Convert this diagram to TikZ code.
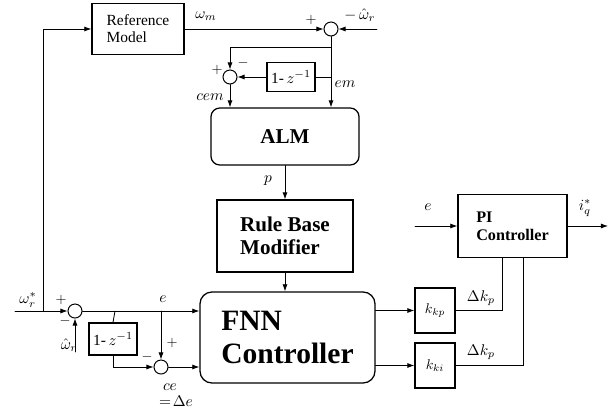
\documentclass[tikz,border=0pt]{standalone}
\usepackage{fix-cm}
\usepackage{amsmath}
\usepackage{fontspec}
\setmainfont{Liberation Serif}[Ligatures=TeX]
\newfontfamily\tms{Liberation Serif}
\usetikzlibrary{arrows.meta,calc}

\begin{document}
\begin{tikzpicture}[x=0.025cm,y=-0.025cm,>={Latex[length=5pt,width=3.6pt]},line cap=round,line width=0.6pt,
  box/.style={draw,line width=0.9pt,inner sep=0pt,align=left},
  rbox/.style={box,rounded corners=0.22cm},
  sumnode/.style={draw,circle,line width=0.7pt,minimum size=0.35cm,inner sep=0pt},
  lab/.style={inner sep=1pt,font=\fontsize{11}{12}\selectfont},
  sgn/.style={inner sep=0pt,font=\fontsize{10}{11}\selectfont}]
\useasboundingbox (0,0) rectangle (614,408);
% blocks
\node[box,minimum width=2.3cm,minimum height=1.275cm,font=\tms\fontsize{11}{12}\selectfont] (refm) at (138,29) {Reference\\Model};
\node[sumnode] (summ) at (331,29) {};
\node[sumnode] (sumc) at (230,77) {};
\node[box,minimum width=1.2cm,minimum height=0.725cm,font=\tms\fontsize{11}{12}\selectfont] (dlym) at (291,77) {1-\,$z^{-1}$};
\node[rbox,minimum width=3.7cm,minimum height=1.425cm,font=\tms\fontsize{15}{17}\selectfont\bfseries] (alm) at (285,136.5) {ALM};
\node[box,minimum width=3.4cm,minimum height=1.8cm,font=\tms\fontsize{15}{16}\selectfont\bfseries] (rbm) at (285,236) {Rule Base\\Modifier};
\node[rbox,rounded corners=0.3cm,minimum width=4.375cm,minimum height=2.275cm,font=\tms\fontsize{21}{23}\selectfont\bfseries] (fnn) at (287.5,337.5) {FNN\\Controller};
\node[sumnode] (sume) at (75,311) {};
\node[box,minimum width=1.2cm,minimum height=0.8cm,font=\tms\fontsize{11}{12}\selectfont] (dlye) at (113,339) {1-\,$z^{-1}$};
\node[sumnode] (sumce) at (161,367) {};
\node[box,minimum width=1.0cm,minimum height=1.125cm] (kkp) at (435,310.5) {$k_{kp}$};
\node[box,minimum width=1.0cm,minimum height=1.125cm] (kki) at (435,365.5) {$k_{ki}$};
\node[box,minimum width=2.725cm,minimum height=1.575cm,font=\tms\fontsize{11.5}{13}\selectfont\bfseries] (pi) at (512.5,226) {PI\\Controller};
% free ends
\coordinate (win) at (15,311);
\coordinate (br1) at (43,311);
\coordinate (whr) at (75,352);
\coordinate (br2) at (115,311);
\coordinate (br3) at (161,311);
\coordinate (whm) at (377,29);
\coordinate (br4) at (331,47);
\coordinate (br5) at (331,77);
\coordinate (ein) at (415,226);
\coordinate (iout) at (608,226);
% reference loop
\draw[->] (win) -- (sume.west);
\draw[->] (br1) -- (43,29) -- (refm.west);
\draw[->] (whr) -- (sume.south);
\draw[->] (sume.east) -- (sume -| fnn.west);
\draw (br2) -- (dlye.north);
\draw[->] (dlye.south) |- (sumce.west);
\draw[->] (br3) -- (sumce.north);
\draw[->] (sumce.east) -- (sumce -| fnn.west);
% adaptation loop
\draw[->] (refm.east) -- (summ.west);
\draw[->] (whm) -- (summ.east);
\draw[->] (summ.south) -- (summ |- alm.north);
\draw[->] (br4) -| (sumc.north);
\draw (br5) -- (dlym.east);
\draw[->] (dlym.west) -- (sumc.east);
\draw[->] (sumc.south) -- (sumc |- alm.north);
\draw[->] (alm.south) -- (rbm.north);
\draw[->] (rbm.south) -- (rbm.south |- fnn.north);
% gains to PI
\draw[->] (fnn.east |- kkp) -- (kkp.west);
\draw[->] (fnn.east |- kki) -- (kki.west);
\draw (kkp.east) -| ($(pi.south)+(-10.5,0)$);
\draw (kki.east) -| ($(pi.south)+(10.5,0)$);
\draw[->] (ein) -- (pi.west);
\draw[->] (pi.east) -- (iout);
% labels
\node[lab] (lwrs) at (28,300) {$\omega_r^{*}$};
\node[sgn] (lp1) at (61,300) {$+$};
\node[sgn] (lm1) at (65,321) {$-$};
\node[lab] (lwr1) at (69,345) {$\hat{\omega}_r$};
\node[lab] (le1) at (163,299) {$e$};
\node[sgn] (lm2) at (147,357) {$-$};
\node[sgn] (lp2) at (172,343) {$+$};
\node[lab] (lce) at (170,387) {$ce$};
\node[lab] (lde) at (176,401) {$=\!\Delta e$};
\node[lab] (lwm) at (206,16) {$\omega_m$};
\node[sgn] (lp3) at (311,20) {$+$};
\node[lab] (lwr2) at (360,15) {$-\,\hat{\omega}_r$};
\node[sgn] (lp4) at (217,70) {$+$};
\node[sgn] (lm4) at (243,63) {$-$};
\node[lab] (lem) at (345,84) {$em$};
\node[lab] (lcem) at (210,97) {$cem$};
\node[lab] (lpp) at (268,181) {$p$};
\node[lab] (le2) at (428,207) {$e$};
\node[lab] (liq) at (585,208) {$i_q^{*}$};
\node[lab] (ldk1) at (481,298) {$\Delta k_p$};
\node[lab] (ldk2) at (481,352) {$\Delta k_p$};
\end{tikzpicture}
\end{document}
